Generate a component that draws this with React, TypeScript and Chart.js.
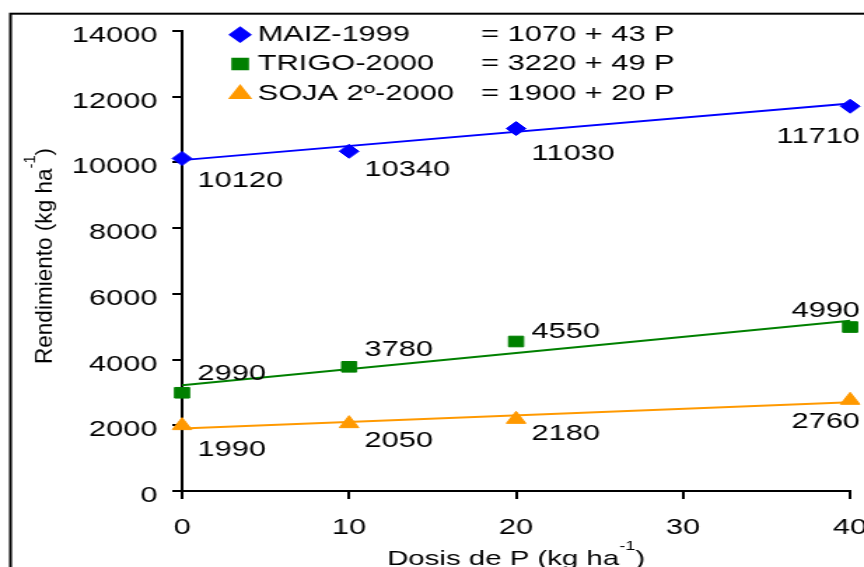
import React, { useEffect, useRef } from 'react';
import { Chart, registerables } from 'chart.js';
import { drawPoint } from 'chart.js/helpers';

Chart.register(...registerables);

// ---- data ----
const doses = [0, 10, 20, 40];
const maizValues = [10120, 10340, 11030, 11710];
const trigoValues = [2990, 3780, 4550, 4990];
const sojaValues = [1990, 2050, 2180, 2760];

// regression lines (end points)
const fitDoses = [0, 40];
const maizFit = [10070, 11790];
const trigoFit = [3220, 5180];
const sojaFit = [1900, 2700];

const seriesNames = ['MAIZ-1999', 'TRIGO-2000', 'SOJA 2º-2000'];
const equations = ['= 1070 + 43 P', '= 3220 + 49 P', '= 1900 + 20 P'];
const xTicks = [0, 10, 20, 30, 40];
const yTicks = [0, 2000, 4000, 6000, 8000, 10000, 12000, 14000];

const xTitle = ['Dosis de P (kg ha', '-1', ')'];
const yTitle = ['Rendimiento (kg ha', '-1', ')'];

// ---- styling ----
const FONT = "'Liberation Sans', Arial, sans-serif";
const COLORS = ['#0000FF', '#008000', '#FF9900'];
const STYLES = ['rectRot', 'rect', 'triangle'];
const RADII = [7, 7.5, 8];
const LOGICAL_W = 617;
const H = 567;
const STRETCH = 864 / LOGICAL_W;
const labelDy = [
  [22, 19, 25, 31],
  [-19, -17, -10, -16],
  [24, 17, 15, 22],
];

function drawSup(ctx: CanvasRenderingContext2D, cx: number, baseY: number, parts: string[], size: number, supSize: number, raise: number) {
  ctx.font = `${size}px ${FONT}`;
  const w1 = ctx.measureText(parts[0]).width;
  const w3 = ctx.measureText(parts[2]).width;
  ctx.font = `${supSize}px ${FONT}`;
  const w2 = ctx.measureText(parts[1]).width;
  let x = cx - (w1 + w2 + w3) / 2;
  ctx.textAlign = 'left';
  ctx.textBaseline = 'alphabetic';
  ctx.font = `${size}px ${FONT}`;
  ctx.fillText(parts[0], x, baseY);
  x += w1;
  ctx.font = `${supSize}px ${FONT}`;
  ctx.fillText(parts[1], x, baseY - raise);
  x += w2;
  ctx.font = `${size}px ${FONT}`;
  ctx.fillText(parts[2], x, baseY);
  return w1 + w2 + w3;
}

const decorPlugin = {
  id: 'decor',
  afterDatasetsDraw(chart: any) {
    const ctx: CanvasRenderingContext2D = chart.ctx;
    const series = [maizValues, trigoValues, sojaValues];
    ctx.save();
    ctx.fillStyle = '#000';
    ctx.font = `22px ${FONT}`;
    ctx.textBaseline = 'middle';
    series.forEach((vals, si) => {
      const meta = chart.getDatasetMeta(si);
      meta.data.forEach((pt: any, j: number) => {
        const last = j === vals.length - 1;
        ctx.textAlign = last ? 'right' : 'left';
        ctx.fillText(String(vals[j]), pt.x + (last ? 7 : 11), pt.y + labelDy[si][j]);
      });
    });
    ctx.restore();
  },
  afterDraw(chart: any) {
    const ctx: CanvasRenderingContext2D = chart.ctx;
    const area = chart.chartArea;
    ctx.save();
    // outer frame
    ctx.strokeStyle = '#000';
    ctx.lineWidth = 2;
    ctx.strokeRect(7.5, 13.7, 1000, 1000);

    // legend
    const rowsY = [34.7, 64, 94];
    seriesNames.forEach((name, i) => {
      ctx.fillStyle = COLORS[i];
      ctx.strokeStyle = COLORS[i];
      drawPoint(ctx, { pointStyle: STYLES[i] as any, radius: RADII[i], rotation: 0, borderWidth: 1 } as any, 171.5, rowsY[i]);
      ctx.fillStyle = '#000';
      ctx.font = `22px ${FONT}`;
      ctx.textAlign = 'left';
      ctx.textBaseline = 'middle';
      ctx.fillText(name, 184, rowsY[i]);
      ctx.fillText(equations[i], 343.5, rowsY[i]);
    });

    // x axis title
    ctx.fillStyle = '#000';
    drawSup(ctx, (area.left + area.right) / 2, 565, xTitle, 21, 13, 15);

    // y axis title (rotated, stretched along its length)
    ctx.save();
    ctx.translate(36.5, 256);
    ctx.rotate(-Math.PI / 2);
    ctx.font = `17px ${FONT}`;
    const w1 = ctx.measureText(yTitle[0]).width + ctx.measureText(yTitle[2]).width;
    ctx.font = `11px ${FONT}`;
    const w2 = ctx.measureText(yTitle[1]).width;
    const scale = 216 / (w1 + w2);
    ctx.scale(scale, 1);
    drawSup(ctx, 0, 0, yTitle, 17, 11, 12);
    ctx.restore();

    ctx.restore();
  },
};

export default function App() {
  const ref = useRef<HTMLCanvasElement>(null);
  useEffect(() => {
    document.body.style.margin = '0';
    const canvas = ref.current!;
    const pts = (xs: number[], ys: number[]) => xs.map((x, i) => ({ x, y: ys[i] }));
    const markerSets = [maizValues, trigoValues, sojaValues].map((vals, i) => ({
      label: seriesNames[i],
      data: pts(doses, vals),
      showLine: false,
      pointStyle: STYLES[i],
      pointRadius: RADII[i],
      backgroundColor: COLORS[i],
      borderColor: COLORS[i],
      pointBorderWidth: 1,
      clip: false as any,
    }));
    const lineSets = [maizFit, trigoFit, sojaFit].map((vals, i) => ({
      label: seriesNames[i] + ' fit',
      data: pts(fitDoses, vals),
      showLine: true,
      pointRadius: 0,
      borderColor: COLORS[i],
      borderWidth: 2,
      backgroundColor: COLORS[i],
      clip: false as any,
    }));
    const tickFont = { family: FONT, size: 22 };
    const chart = new Chart(canvas, {
      type: 'scatter',
      data: { datasets: [...markerSets, ...lineSets] as any },
      options: {
        responsive: false,
        animation: false,
        devicePixelRatio: 1,
        layout: { padding: { left: 0, top: 31, right: LOGICAL_W - 607.1, bottom: 0 } },
        plugins: { legend: { display: false }, tooltip: { enabled: false }, title: { display: false } },
        events: [],
        scales: {
          x: {
            type: 'linear',
            min: 0,
            max: 40,
            afterBuildTicks: (s: any) => { s.ticks = xTicks.map((v) => ({ value: v })); },
            ticks: { color: '#000', font: tickFont, padding: 16, maxRotation: 0, autoSkip: false, callback: (v: any) => String(v) },
            grid: { drawOnChartArea: false, drawTicks: true, tickLength: 8, color: '#000', lineWidth: 2 },
            border: { display: true, color: '#000', width: 2 },
            afterFit: (s: any) => { s.height = H - 491; s.paddingLeft = 0; s.paddingRight = 0; },
          },
          y: {
            type: 'linear',
            min: 0,
            max: 14000,
            afterBuildTicks: (s: any) => { s.ticks = yTicks.map((v) => ({ value: v })); },
            ticks: { color: '#000', font: tickFont, padding: 10.5, labelOffset: 5, autoSkip: false, callback: (v: any) => String(v) },
            grid: { drawOnChartArea: false, drawTicks: true, tickLength: 7, color: '#000', lineWidth: 2 },
            border: { display: true, color: '#000', width: 2 },
            afterFit: (s: any) => { s.width = 130; s.paddingTop = 0; s.paddingBottom = 0; },
          },
        },
      } as any,
      plugins: [decorPlugin],
    });
    return () => chart.destroy();
  }, []);
  return (
    <div style={{ width: 864, height: H, overflow: 'hidden', background: '#fff' }}>
      <div style={{ width: LOGICAL_W, height: H, transform: `scaleX(${STRETCH})`, transformOrigin: '0 0' }}>
        <canvas ref={ref} width={LOGICAL_W} height={H} />
      </div>
    </div>
  );
}
